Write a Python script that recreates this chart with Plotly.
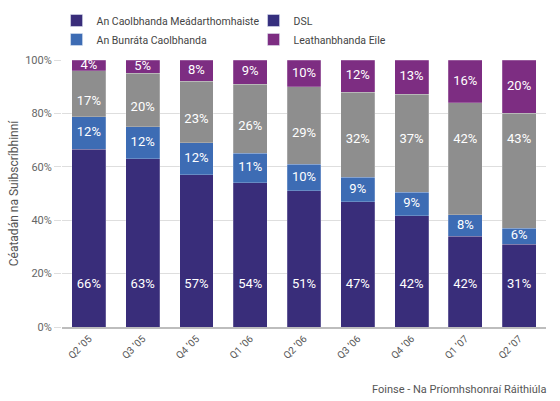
import numpy as np
import plotly.graph_objects as go

categories = ["Q2 ’05", "Q3 ’05", "Q4 ’05", "Q1 ’06", "Q2 ’06", "Q3 ’06", "Q4 ’06", "Q1 ’07", "Q2 ’07"]
metered = [66, 63, 57, 54, 51, 47, 42, 34, 31]
metered_labels = [66, 63, 57, 54, 51, 47, 42, 42, 31]
flat_rate = [12, 12, 12, 11, 10, 9, 9, 8, 6]
dsl = [17, 20, 23, 26, 29, 32, 37, 42, 43]
other_bb = [4, 5, 8, 9, 10, 12, 13, 16, 20]
y_ticks = [0, 20, 40, 60, 80, 100]

names = ["An Caolbhanda Meádarthomhaiste", "An Bunráta Caolbhanda", "DSL", "Leathanbhanda Eile"]
colors = ["#392d7a", "#3d6cb4", "#8e8e8e", "#7d2d82"]
legend_colors = ["#392d7a", "#3d6cb4", "#352f7e", "#7d2d82"]
FONT = "Roboto"
LABEL_FONT = dict(color="white", size=13, family=FONT)

series = [metered, flat_rate, dsl, other_bb]
arr = np.array(series, dtype=float)
norm = arr / arr.sum(axis=0) * 100
cum = np.cumsum(norm, axis=0)
bottoms = cum - norm
mids = bottoms + norm / 2

fig = go.Figure()
for vals, name, col in zip(series, names, colors):
    fig.add_trace(go.Bar(
        x=categories, y=vals, name=name, showlegend=False,
        marker=dict(color=col, line=dict(color="rgba(255,255,255,0.35)", width=0.6)),
        hoverinfo="skip",
    ))

label_sets = [
    (np.full(len(categories), 16.0), metered_labels),
    (mids[1], flat_rate),
    (np.maximum(mids[2] - 3, 70), dsl),
    (mids[3], other_bb),
]
for ypos, labs in label_sets:
    fig.add_trace(go.Scatter(
        x=categories, y=ypos, mode="text",
        text=[f"{v}%" for v in labs], showlegend=False,
        textfont=LABEL_FONT, hoverinfo="skip", cliponaxis=False,
    ))

# legend entries (order: row1 metered, DSL; row2 flat-rate, other)
for idx in [0, 2, 1, 3]:
    fig.add_trace(go.Bar(x=[None], y=[None], name=names[idx],
                         marker=dict(color=legend_colors[idx]), showlegend=True))

fig.update_layout(
    width=560, height=401,
    margin=dict(l=62, r=14, t=60, b=74, autoexpand=False),
    paper_bgcolor="white", plot_bgcolor="white",
    barmode="stack", barnorm="percent", bargap=0.37,
    font=dict(family=FONT, color="#555555", size=11),
    legend=dict(orientation="h", xref="container", yref="container",
                x=0.101, y=0.985, xanchor="left", yanchor="top",
                entrywidth=152, entrywidthmode="pixels",
                font=dict(size=10.5, color="#444444", family=FONT),
                bgcolor="rgba(0,0,0,0)", traceorder="normal"),
    xaxis=dict(tickangle=-45, showgrid=False, showline=True, linecolor="#bdbdbd",
               linewidth=2, ticks="", tickfont=dict(size=10, color="#555555"),
               range=[-0.5, 8.5], automargin=False),
    yaxis=dict(range=[0, 100], tickvals=y_ticks, ticktext=[f"{t}%" for t in y_ticks],
               showgrid=True, gridcolor="#dedede", gridwidth=1, zeroline=False,
               ticks="outside", ticklen=7, tickcolor="#dedede",
               tickfont=dict(size=11, color="#666666"), automargin=False,
               title=dict(text="Céatadán na Suibscríbhinní", font=dict(size=12, color="#555555"),
                          standoff=3)),
    annotations=[dict(text="Foinse - Na Príomhshonraí Ráithiúla", xref="paper", yref="paper",
                      x=1.005, y=-0.235, xanchor="right", yanchor="middle", showarrow=False,
                      font=dict(size=11, color="#555555", family=FONT))],
)

fig.write_html("out.html", config={"displayModeBar": False},
               post_script="document.body.style.margin='0';")
